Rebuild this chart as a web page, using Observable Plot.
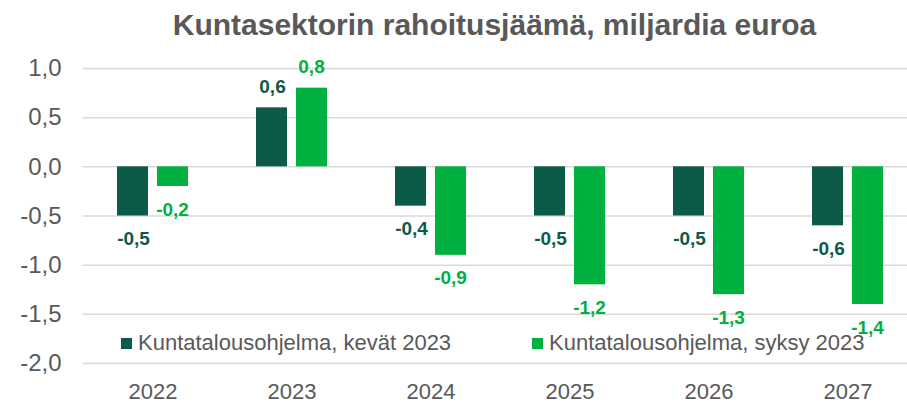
<!DOCTYPE html>
<html><head><meta charset="utf-8">
<script src="https://cdn.jsdelivr.net/npm/d3@7"></script>
<script src="https://cdn.jsdelivr.net/npm/@observablehq/plot@0.6"></script>
<style>
html,body{margin:0;padding:0;background:#fff;overflow:hidden;}
#wrap{position:relative;width:907px;height:403px;overflow:hidden;font-family:"Liberation Sans",Arial,sans-serif;}
#title{height:45px;line-height:44px;padding-top:3px;text-align:center;padding-left:82px;font-size:30px;font-weight:bold;color:#595959;box-sizing:border-box;white-space:nowrap;}
.leg{position:absolute;top:330px;font-size:22px;color:#595959;white-space:nowrap;display:flex;align-items:center;}
.sw{display:inline-block;width:11px;height:11px;margin-right:6px;}
#chart svg{max-width:none !important;}
</style></head><body>
<div id="wrap">
<div id="title">Kuntasektorin rahoitusjäämä, miljardia euroa</div>
<div id="chart"></div>
<div class="leg" style="left:121px"><span class="sw" style="background:#0c5a48"></span>Kuntatalousohjelma, kevät 2023</div>
<div class="leg" style="left:532px"><span class="sw" style="background:#00b140"></span>Kuntatalousohjelma, syksy 2023</div>
</div>
<script>
const years = ["2022","2023","2024","2025","2026","2027"];
const spring = [-0.5, 0.6, -0.4, -0.5, -0.5, -0.6];
const autumn = [-0.2, 0.8, -0.9, -1.2, -1.3, -1.4];
const yTicks = [1.0, 0.5, 0.0, -0.5, -1.0, -1.5, -2.0];
const darkC = "#0c5a48", lightC = "#00b140";

const rowsS = years.map((y,i)=>({year:y, v:spring[i]}));
const rowsA = years.map((y,i)=>({year:y, v:autumn[i]}));
const fmt = v => v.toFixed(1).replace(".", ",");

function labels(rows, dx, color) {
  return [
    Plot.text(rows.filter(d => d.v >= 0), {x: "year", y: "v", text: d => fmt(d.v), dx, dy: -21, fill: color, fontWeight: "bold", fontSize: 19}),
    Plot.text(rows.filter(d => d.v < 0), {x: "year", y: "v", text: d => fmt(d.v), dx, dy: 23, fill: color, fontWeight: "bold", fontSize: 19})
  ];
}

const chart = Plot.plot({
  width: 917, height: 358,
  marginLeft: 83, marginRight: 0, marginTop: 23, marginBottom: 40,
  style: {fontFamily: '"Liberation Sans", Arial, sans-serif', color: "#595959", background: "transparent", overflow: "visible", maxWidth: "none"},
  x: {domain: years, padding: 0, label: null},
  y: {domain: [-2, 1], label: null},
  marks: [
    Plot.ruleY(yTicks, {stroke: "#d9d9d9", strokeWidth: 1.5}),
    Plot.barY(rowsS, {x: "year", y: "v", fill: darkC, insetLeft: 34, insetRight: 74}),
    Plot.barY(rowsA, {x: "year", y: "v", fill: lightC, insetLeft: 74, insetRight: 34}),
    ...labels(rowsS, -19.5, darkC),
    ...labels(rowsA, 19.5, lightC),
    Plot.axisY({ticks: yTicks, tickSize: 0, tickPadding: 22, tickFormat: fmt, fontSize: 24, fill: "#595959", label: null}),
    Plot.axisX({tickSize: 0, tickPadding: 20, fontSize: 22, fill: "#595959", label: null})
  ]
});
document.getElementById("chart").appendChild(chart);
</script>
</body></html>
